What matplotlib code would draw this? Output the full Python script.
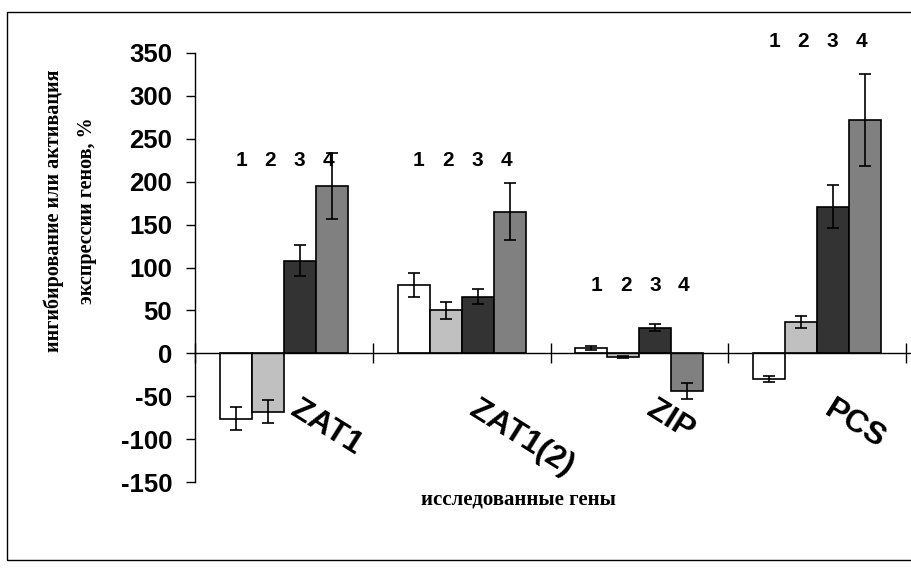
import matplotlib.pyplot as plt
import matplotlib.patches as mpatches
import numpy as np

plt.rcParams["axes.unicode_minus"] = False

# ==== данные ====
genes = ["ZAT1", "ZAT1(2)", "ZIP", "PCS"]
series_names = ["1", "2", "3", "4"]
values = [
    [-76, 80, 6, -30],     # 1
    [-68, 50, -4, 36],     # 2
    [108, 66, 30, 171],    # 3
    [195, 165, -44, 272],  # 4
]
errors = [
    [13, 14, 2, 4],
    [13, 10, 1, 7],
    [18, 9, 4, 25],
    [38, 33, 9, 54],
]
# высота подписей "1 2 3 4" над группами
number_label_y = [225, 225, 79, 363]
yticks = [-150, -100, -50, 0, 50, 100, 150, 200, 250, 300, 350]
colors = ["#FFFFFF", "#C0C0C0", "#333333", "#808080"]

ylabel = "ингибирование или активация\nэкспрессии генов, %"
xlabel = "исследованные гены"
# ================


def main():
    fig = plt.figure(figsize=(9.11, 5.68), dpi=100)

    # рамка вокруг всей диаграммы
    fig.patches.append(mpatches.Rectangle(
        (7 / 911, 8 / 568), 1.0, 1 - 20 / 568, transform=fig.transFigure,
        fill=False, edgecolor="black", linewidth=1.0))

    ax = fig.add_axes([195 / 911, 1 - 482 / 568, 716 / 911, 429 / 568])

    width = 0.18
    x = np.arange(len(genes)) + 0.5
    for i in range(len(series_names)):
        xpos = x + (i - 1.5) * width
        ax.bar(xpos, values[i], width, color=colors[i], edgecolor="black",
               linewidth=1.2, zorder=2)
        ax.errorbar(xpos, values[i], yerr=errors[i], fmt="none",
                    ecolor="black", elinewidth=1.2, capsize=4.5,
                    capthick=1.2, zorder=3)
        # номера вариантов над группами
        for g in range(len(genes)):
            ax.text(x[g] + (i - 1.5) * width * 0.91 + 0.005,
                    number_label_y[g], series_names[i],
                    ha="center", va="center", fontsize=15,
                    fontweight="bold", family="Liberation Sans",
                    clip_on=False)

    ax.set_xlim(0, 716 / 177.75)
    ax.set_ylim(-150, 350)

    ax.spines["top"].set_visible(False)
    ax.spines["right"].set_visible(False)
    ax.spines["bottom"].set_position(("data", 0))
    for s in ("left", "bottom"):
        ax.spines[s].set_linewidth(1.0)

    ax.set_yticks(yticks)
    ax.set_yticklabels([str(v) for v in yticks], fontsize=18.5,
                       fontweight="bold", family="Liberation Sans")
    ax.tick_params(axis="y", direction="out", length=6.5, width=1.0, pad=10)

    ax.set_xticks(np.arange(len(genes) + 1))
    ax.set_xticklabels([])
    ax.tick_params(axis="x", direction="inout", length=14, width=1.0)

    # подписи генов под осью, повернутые
    for g, name in enumerate(genes):
        ax.text(x[g] + 0.1, -48, name, rotation=-32, rotation_mode="anchor",
                ha="left", va="top", fontsize=23, fontweight="bold",
                family="Liberation Sans")

    fig.text(70 / 911, 1 - 211 / 568, ylabel, rotation=90, ha="center",
             va="center", multialignment="center", fontsize=14.5,
             fontweight="bold", family="Liberation Serif", linespacing=1.85)
    fig.text(518 / 911, 1 - 500 / 568, xlabel, ha="center", va="center",
             fontsize=15, fontweight="bold", family="Liberation Serif")

    fig.savefig("out.png", dpi=100)


if __name__ == "__main__":
    main()
